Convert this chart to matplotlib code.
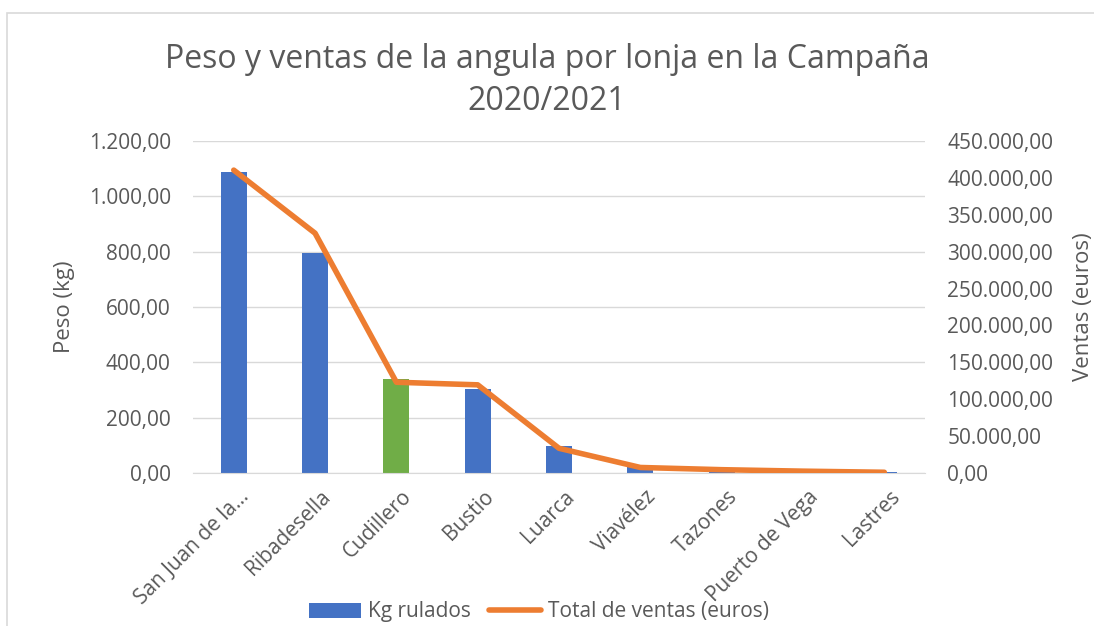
import matplotlib
matplotlib.use("Agg")
import matplotlib.pyplot as plt
from matplotlib.ticker import FuncFormatter
from matplotlib.patches import Rectangle
import matplotlib.transforms as mtransforms

categories = ["San Juan de la...", "Ribadesella", "Cudillero", "Bustio", "Luarca",
              "Viavélez", "Tazones", "Puerto de Vega", "Lastres"]
kg_rulados = [1088, 795, 340, 304, 97, 20, 2, 1, 3]
ventas = [410500, 325000, 123000, 119500, 33500, 7500, 4500, 2500, 1000]
bar_colors = ["#4472C4", "#4472C4", "#70AD47", "#4472C4", "#4472C4",
              "#4472C4", "#4472C4", "#4472C4", "#4472C4"]

plt.rcParams['font.family'] = ['Open Sans', 'DejaVu Sans']
TXT = "#595959"
FS = 15

def es_fmt(v, pos=None):
    s = f"{v:,.2f}"
    return s.replace(",", "X").replace(".", ",").replace("X", ".")

fig = plt.figure(figsize=(10.94, 6.26), dpi=100)
ax = fig.add_axes([0.1765, 0.2444, 0.669, 0.5304])
ax2 = ax.twinx()

x = list(range(len(categories)))
bars = ax.bar(x, kg_rulados, width=0.32, color=bar_colors, zorder=2, label="Kg rulados")
line, = ax2.plot(x, ventas, color="#ED7D31", lw=4, solid_capstyle="round",
                 solid_joinstyle="round", zorder=3, label="Total de ventas (euros)")

ax.set_xlim(-0.5, len(categories) - 0.5)
ax.set_ylim(0, 1200)
ax.set_yticks(range(0, 1201, 200))
ax2.set_ylim(0, 450000)
ax2.set_yticks(range(0, 450001, 50000))
ax.yaxis.set_major_formatter(FuncFormatter(es_fmt))
ax2.yaxis.set_major_formatter(FuncFormatter(es_fmt))

ax.grid(axis="y", color="#D9D9D9", lw=1, zorder=0)
ax.set_axisbelow(True)
for a in (ax, ax2):
    for s in a.spines.values():
        s.set_visible(False)
    a.tick_params(length=0, labelsize=FS, colors=TXT, pad=16)
ax.spines["bottom"].set_visible(True)
ax.spines["bottom"].set_color("#D9D9D9")

ax.set_xticks(x)
ax.set_xticklabels(categories, rotation=45, ha="right", va="center", rotation_mode="anchor")
ax.tick_params(axis="x", pad=15)
offset = mtransforms.ScaledTranslation(9 / 72, 0, fig.dpi_scale_trans)
for lab in ax.get_xticklabels():
    lab.set_transform(lab.get_transform() + offset)

ax.set_ylabel("Peso (kg)", fontsize=16, color=TXT, labelpad=10)
ax2.set_ylabel("Ventas (euros)", fontsize=16, color=TXT, labelpad=14)

fig.text(0.5, 1 - 60 / 626, "Peso y ventas de la angula por lonja en la Campaña",
         ha="center", va="center", fontsize=23, color=TXT)
fig.text(0.5, 1 - 102 / 626, "2020/2021",
         ha="center", va="center", fontsize=23, color=TXT)

handles = [bars, line]
fig.legend(handles, [h.get_label() for h in handles], loc="center",
           bbox_to_anchor=(539 / 1094, 1 - 612 / 626), ncol=2, frameon=False, fontsize=FS,
           labelcolor=TXT, handlelength=2.5, handletextpad=0.3, columnspacing=0.9)

fig.patches.append(Rectangle((7 / 1094, -0.05), 1.2, 1 - 13 / 626 + 0.05,
                             transform=fig.transFigure, fill=False,
                             edgecolor="#D9D9D9", lw=1.2))

fig.savefig("out.png", dpi=100, facecolor="white")
